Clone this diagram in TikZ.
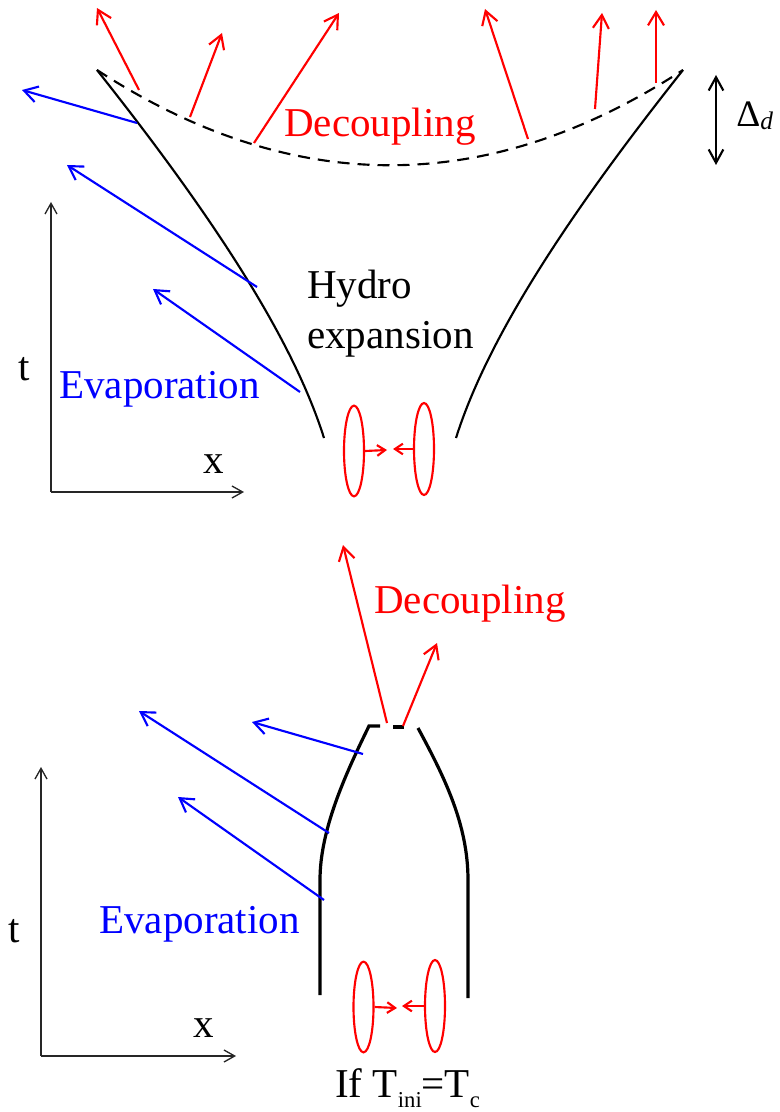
\documentclass[tikz,border=0pt]{standalone}
\usepackage{fontspec}
\setmainfont{Liberation Serif}
\usetikzlibrary{arrows.meta,shapes.geometric}
\newcommand\lowsub[1]{\raisebox{-8pt}{\fontsize{17}{17}\selectfont #1}}
\begin{document}
\begin{tikzpicture}[x=0.75pt,y=-0.75pt,
  lbl/.style={font=\fontsize{30.75}{36}\selectfont, inner sep=0pt, anchor=base west},
  redar/.style={draw=red, line width=1.6pt, -{Straight Barb[length=10pt,width=12pt]}},
  bluar/.style={draw=blue, line width=1.6pt, -{Straight Barb[length=10pt,width=12pt]}},
  smallar/.style={draw=red, line width=1.6pt, -{Straight Barb[length=6pt,width=8pt]}},
  axisline/.style={draw=black!85, line width=1pt, -{Straight Barb[length=8pt,width=9pt]}},
  wall/.style={draw=black, line width=1.6pt},
  thickwall/.style={draw=black, line width=2.4pt},
  ring/.style={draw=red, line width=1.6pt},
]
\useasboundingbox (0,0) rectangle (780,1112);

% ================= TOP PANEL =================
% axes
\coordinate (o1) at (51,492);
\coordinate (ty1) at (51,202);
\coordinate (tx1) at (244,492);
\draw[axisline] (o1) -- (ty1);
\draw[axisline] (o1) -- (tx1);
\node[lbl] (t1) at (18,380) {t};
\node[lbl] (x1) at (203,473) {x};

% walls
\coordinate (la) at (97,70);
\coordinate (lb) at (324,438);
\coordinate (ra) at (683,70);
\coordinate (rb) at (456,438);
\draw[wall] (la) .. controls (200,200) and (290,330) .. (lb);
\draw[wall] (ra) .. controls (580,200) and (490,330) .. (rb);
% decoupling surface
\draw[wall, dash pattern=on 9pt off 6pt] (la) .. controls (292,197) and (488,197) .. (ra);

% red decoupling arrows
\coordinate (r1s) at (139,90);  \coordinate (r1e) at (97,8);
\coordinate (r2s) at (190,117); \coordinate (r2e) at (222,33);
\coordinate (r3s) at (254,143); \coordinate (r3e) at (339,13);
\coordinate (r4s) at (528,139); \coordinate (r4e) at (485,9);
\coordinate (r5s) at (595,109); \coordinate (r5e) at (602,13);
\coordinate (r6s) at (656,83);  \coordinate (r6e) at (656,10);
\foreach \i in {1,...,6} \draw[redar] (r\i s) -- (r\i e);

% blue evaporation arrows
\coordinate (b1s) at (137,123); \coordinate (b1e) at (22,90);
\coordinate (b2s) at (257,287); \coordinate (b2e) at (67,165);
\coordinate (b3s) at (300,392); \coordinate (b3e) at (153,289);
\foreach \i in {1,2,3} \draw[bluar] (b\i s) -- (b\i e);

% labels
\node[lbl, text=red] (dec1) at (284,137) {Decoupling};
\node[lbl, text=blue] (eva1) at (59,398) {Evaporation};
\node[lbl] (hyd) at (307,298) {Hydro};
\node[lbl] (exp) at (307,348) {expansion};

% Delta_d
\coordinate (da) at (716,75);
\coordinate (db) at (716,165);
\draw[line width=1.6pt, {Straight Barb[length=10pt,width=11pt]}-{Straight Barb[length=10pt,width=11pt]}] (da) -- (db);
\node[inner sep=0pt, anchor=base west] (dl) at (736,127)
  {\fontsize{28}{30}\selectfont Δ\raisebox{-2pt}{\fontsize{19}{20}\selectfont\itshape d}};

% nuclei
\node[ring, ellipse, minimum width=15pt, minimum height=68pt, inner sep=0pt] (n1) at (354,451) {};
\node[ring, ellipse, minimum width=15pt, minimum height=69pt, inner sep=0pt] (n2) at (424,449) {};
\coordinate (n1e) at (387,450);
\coordinate (n2e) at (393,449);
\draw[smallar] (n1.east) -- (n1e);
\draw[smallar] (n2.west) -- (n2e);

% ================= BOTTOM PANEL =================
\coordinate (o2) at (41,1056);
\coordinate (ty2) at (41,767);
\coordinate (tx2) at (236,1056);
\draw[axisline] (o2) -- (ty2);
\draw[axisline] (o2) -- (tx2);
\node[lbl] (t2) at (8,942) {t};
\node[lbl] (x2) at (193,1037) {x};

% walls
\coordinate (lt) at (380,726);
\coordinate (lc) at (369,726);
\coordinate (lbot) at (320,995);
\coordinate (rt) at (418,728);
\coordinate (rbot) at (468,998);
\draw[thickwall] (lt) -- (lc) .. controls (345,775) and (320,830) .. (320,880) -- (lbot);
\draw[thickwall] (rt) .. controls (445,778) and (468,825) .. (468,880) -- (rbot);
\coordinate (dsa) at (393,727);
\coordinate (dsb) at (404,727);
\draw[thickwall] (dsa) -- (dsb);

% red arrows
\coordinate (q1s) at (387,723); \coordinate (q1e) at (343,545);
\coordinate (q2s) at (403,726); \coordinate (q2e) at (437,643);
\draw[redar] (q1s) -- (q1e);
\draw[redar] (q2s) -- (q2e);

% blue arrows
\coordinate (c1s) at (363,754); \coordinate (c1e) at (252,722);
\coordinate (c2s) at (329,833); \coordinate (c2e) at (139,711);
\coordinate (c3s) at (324,900); \coordinate (c3e) at (178,797);
\foreach \i in {1,2,3} \draw[bluar] (c\i s) -- (c\i e);

% labels
\node[lbl, text=red] (dec2) at (374,613) {Decoupling};
\node[lbl, text=blue] (eva2) at (99,933) {Evaporation};
\node[lbl] (cond) at (335,1097) {If T\lowsub{ini}=T\lowsub{c}};

% nuclei
\node[ring, ellipse, minimum width=15pt, minimum height=68pt, inner sep=0pt] (m1) at (363.5,1007) {};
\node[ring, ellipse, minimum width=15pt, minimum height=69pt, inner sep=0pt] (m2) at (435,1006) {};
\coordinate (m1e) at (397,1008);
\coordinate (m2e) at (402,1006);
\draw[smallar] (m1.east) -- (m1e);
\draw[smallar] (m2.west) -- (m2e);
\end{tikzpicture}
\end{document}
